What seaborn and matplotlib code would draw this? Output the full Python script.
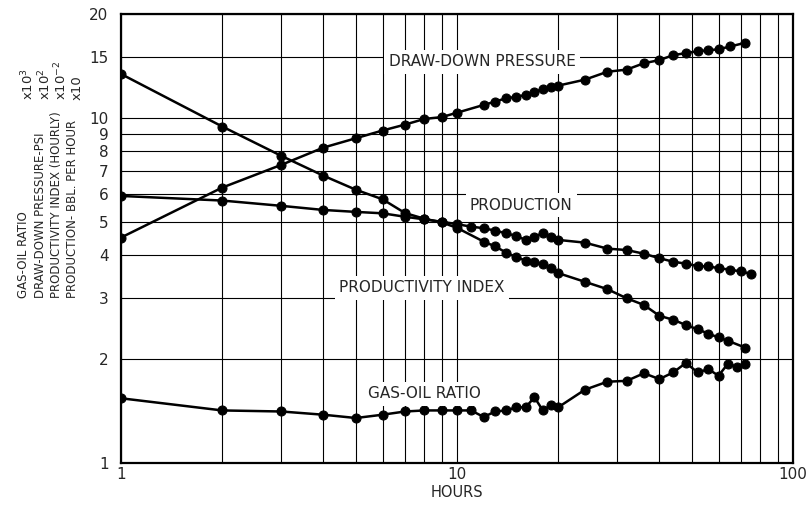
import numpy as np
import pandas as pd
import seaborn as sns
import matplotlib.pyplot as plt
import matplotlib.ticker as mtick

# Hours of each reading, per curve
dd_hours = [1, 2, 3, 4, 5, 6, 7, 8, 9, 10, 12, 13, 14, 15, 16, 17, 18, 19, 20,
            24, 28, 32, 36, 40, 44, 48, 52, 56, 60, 65, 72]
dd_values = [4.5, 6.28, 7.31, 8.2, 8.73, 9.19, 9.56, 9.93, 10.05, 10.35, 10.9, 11.15,
             11.4, 11.5, 11.66, 11.9, 12.1, 12.3, 12.4, 12.9, 13.6, 13.8, 14.4, 14.7,
             15.2, 15.4, 15.6, 15.7, 15.8, 16.1, 16.5]

pi_hours = [1, 2, 3, 4, 5, 6, 7, 8, 9, 10, 12, 13, 14, 15, 16, 17, 18, 19, 20,
            24, 28, 32, 36, 40, 44, 48, 52, 56, 60, 64, 72]
pi_values = [13.4, 9.44, 7.76, 6.8, 6.19, 5.81, 5.3, 5.1, 4.98, 4.8, 4.38, 4.24,
             4.07, 3.95, 3.86, 3.81, 3.78, 3.67, 3.55, 3.35, 3.19, 3.0, 2.87, 2.67,
             2.6, 2.51, 2.44, 2.37, 2.31, 2.26, 2.16]

prod_hours = [1, 2, 3, 4, 5, 6, 7, 8, 9, 10, 11, 12, 13, 14, 15, 16, 17, 18, 19, 20,
              24, 28, 32, 36, 40, 44, 48, 52, 56, 60, 65, 70, 75]
prod_values = [5.94, 5.76, 5.56, 5.41, 5.34, 5.29, 5.17, 5.08, 5.0, 4.92, 4.84, 4.79,
               4.71, 4.63, 4.55, 4.43, 4.53, 4.63, 4.53, 4.43, 4.35, 4.18, 4.14, 4.04,
               3.92, 3.83, 3.78, 3.72, 3.71, 3.67, 3.63, 3.59, 3.53]

gor_hours = [1, 2, 3, 4, 5, 6, 7, 8, 9, 10, 11, 12, 13, 14, 15, 16, 17, 18, 19, 20,
             24, 28, 32, 36, 40, 44, 48, 52, 56, 60, 64, 68, 72]
gor_values = [1.54, 1.42, 1.41, 1.38, 1.35, 1.38, 1.41, 1.42, 1.42, 1.42, 1.42, 1.36,
              1.41, 1.42, 1.45, 1.45, 1.55, 1.42, 1.47, 1.45, 1.63, 1.72, 1.73, 1.82,
              1.75, 1.83, 1.95, 1.83, 1.87, 1.79, 1.94, 1.90, 1.94]

y_ticks = [1, 2, 3, 4, 5, 6, 7, 8, 9, 10, 15, 20]
x_ticks = [1, 10, 100]

sns.set_style('white')

fig = plt.figure(figsize=(8.08, 5.08), dpi=100)
ax = fig.add_axes([0.1498, 0.0886, 0.8317, 0.8839])

for hrs, vals in [(dd_hours, dd_values), (pi_hours, pi_values),
                  (prod_hours, prod_values), (gor_hours, gor_values)]:
    sns.lineplot(x=hrs, y=vals, ax=ax, color='black', marker='o', markersize=6.5,
                 markeredgecolor='black', linewidth=1.8, zorder=4)

ax.set_xscale('log')
ax.set_yscale('log')
ax.set_xlim(1, 100)
ax.set_ylim(1, 20)

ax.xaxis.set_major_locator(mtick.FixedLocator(x_ticks))
ax.xaxis.set_minor_locator(mtick.LogLocator(base=10, subs=np.arange(2, 10)))
ax.xaxis.set_major_formatter(mtick.FixedFormatter(['1', '10', '100']))
ax.xaxis.set_minor_formatter(mtick.NullFormatter())
ax.yaxis.set_major_locator(mtick.FixedLocator(y_ticks))
ax.yaxis.set_major_formatter(mtick.FixedFormatter([str(t) for t in y_ticks]))
ax.yaxis.set_minor_locator(mtick.NullLocator())

ax.grid(True, which='both', color='black', linewidth=0.8)
ax.set_axisbelow(True)
ax.tick_params(axis='both', which='both', length=0, labelsize=11)
ax.tick_params(axis='y', pad=9)
ax.tick_params(axis='x', pad=3)
for s in ax.spines.values():
    s.set_linewidth(1.6)
    s.set_color('black')

ax.set_xlabel('HOURS', fontsize=10.5, labelpad=2)

# curve labels, placed in figure pixels
box = dict(facecolor='white', edgecolor='none', pad=3)
def label(txt, px, py):
    fig.text(px / 808, 1 - py / 508, txt, ha='center', va='center', fontsize=11,
             bbox=box, zorder=3)

label('DRAW-DOWN PRESSURE', 482, 62)
label('PRODUCTION', 521, 205)
label('PRODUCTIVITY INDEX', 422, 288)
label('GAS-OIL RATIO', 424, 394)

# stacked y-axis captions
cols = [24, 41, 57, 73]
names = ['GAS-OIL RATIO', 'DRAW-DOWN PRESSURE-PSI',
         'PRODUCTIVITY INDEX (HOURLY)', 'PRODUCTION- BBL. PER HOUR']
mults = [r'x10$^{3}$', r'x10$^{2}$', r'x10$^{-2}$', 'x10']
for cx, nm, mu in zip(cols, names, mults):
    fig.text(cx / 808, 1 - 298 / 508, nm, rotation=90, ha='center', va='bottom',
             fontsize=8.5)
    fig.text((cx + 4) / 808, 1 - 100 / 508, mu, rotation=90, ha='center', va='bottom',
             fontsize=9.5)

fig.savefig('out.png', dpi=100)
